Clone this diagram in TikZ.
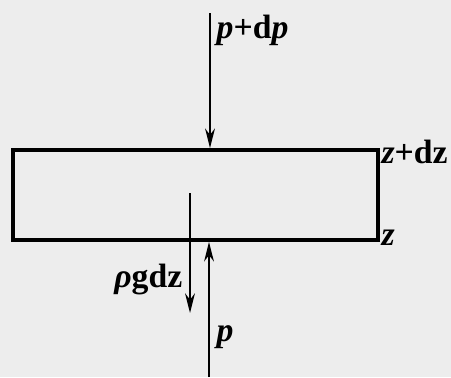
\documentclass[tikz,border=0pt]{standalone}
\usepackage{fontspec}
\setmainfont{Liberation Serif}
\usetikzlibrary{arrows.meta, positioning}

\begin{document}
\begin{tikzpicture}[
    x=0.025cm, y=-0.025cm,
    slab/.style={draw, line width=2.6pt, minimum width=9.125cm, minimum height=2.25cm, inner sep=0pt},
    force/.style={line width=1.4pt, -{Stealth[length=14pt, width=7pt]}},
    lbl/.style={font=\fontsize{24}{27}\selectfont\bfseries, inner sep=1pt},
]
    \fill[black!7] (0,0) rectangle (451,377);
    \useasboundingbox (0,0) rectangle (451,377);

    % elemento de fluido
    \node[slab] (slab) at (195.5,195) {};

    \coordinate (ptop) at (210,13);
    \coordinate (pbot) at (209,377);
    \coordinate (gtop) at (190,193);
    \coordinate (gbot) at (190,313);

    % forcas
    \draw[force] (ptop) -- (ptop |- slab.north);
    \draw[force] (pbot) -- (pbot |- slab.south);
    \draw[force] (gtop) -- (gbot);

    \node[lbl, anchor=west] (lpdp) at (215,30) {\itshape p\upshape+d\itshape p};
    \node[lbl, anchor=east] (lrho) at (184,280) {\itshape ρ\upshape gdz};
    \node[lbl, anchor=west] (lp) at (215,337) {\itshape p};
    \node[lbl, anchor=west] (lzdz) at ([yshift=-3pt]slab.north east) {\itshape z\upshape+dz};
    \node[lbl, anchor=west] (lz) at ([yshift=3pt]slab.south east) {\itshape z};
\end{tikzpicture}
\end{document}
